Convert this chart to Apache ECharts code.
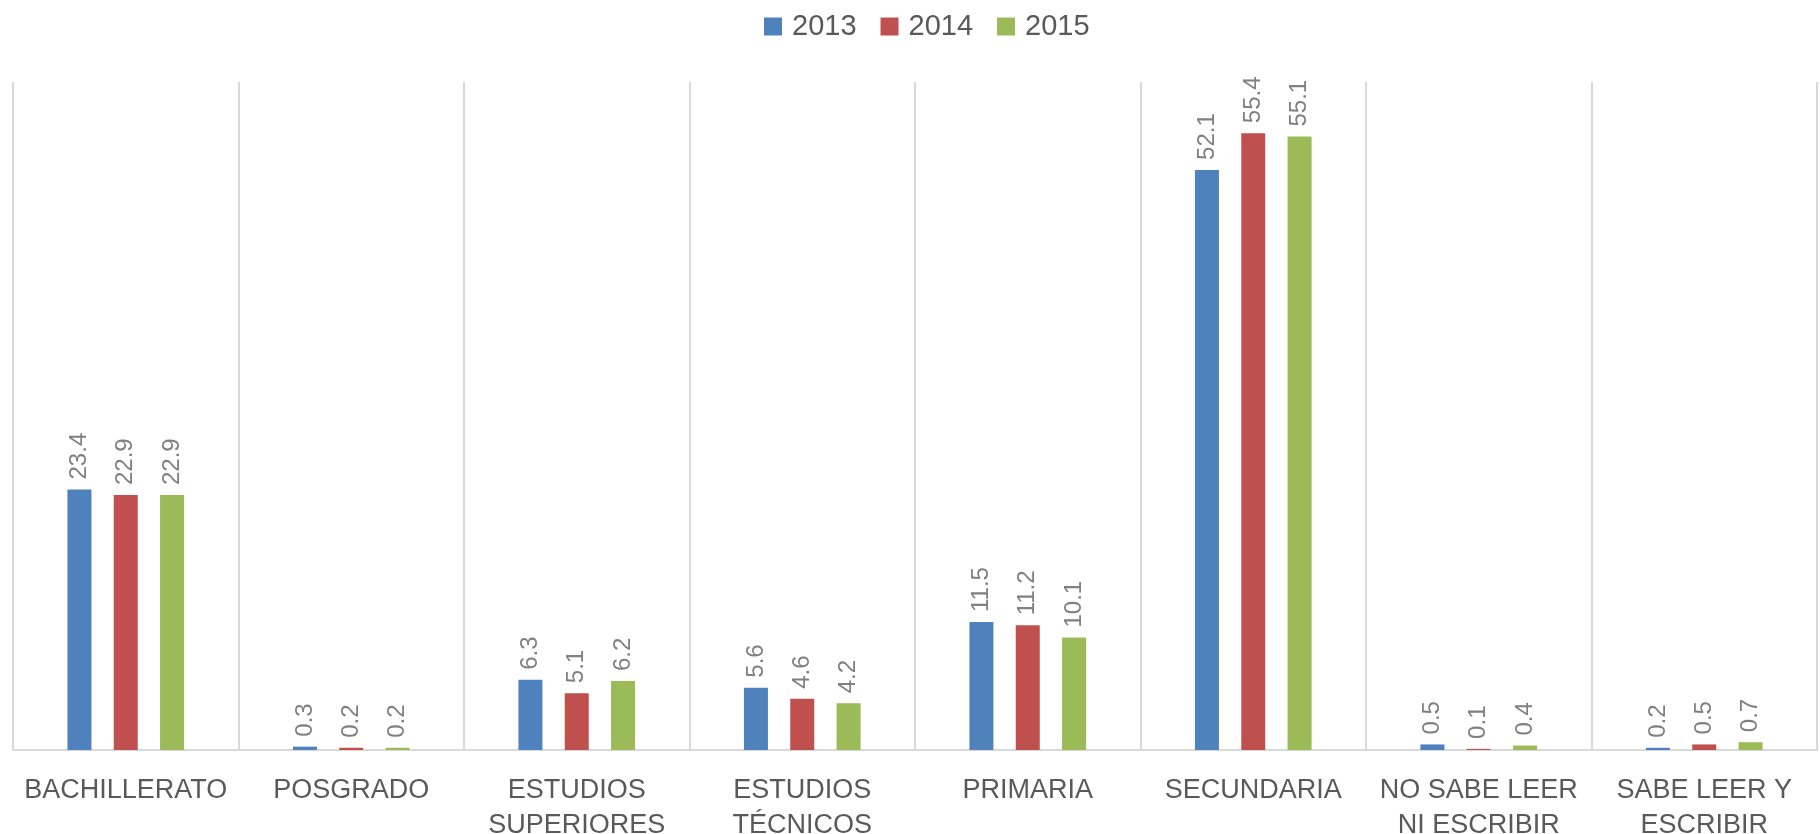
<!DOCTYPE html>
<html>
<head>
<meta charset="utf-8">
<script src="https://cdn.jsdelivr.net/npm/echarts@6/dist/echarts.min.js"></script>
<style>
html,body{margin:0;padding:0;background:#fff;}
#chart{width:1820px;height:834px;}
</style>
</head>
<body>
<div id="chart"></div>
<script>
const categories = ['BACHILLERATO', 'POSGRADO', 'ESTUDIOS\nSUPERIORES', 'ESTUDIOS\nTÉCNICOS', 'PRIMARIA', 'SECUNDARIA', 'NO SABE LEER\nNI ESCRIBIR', 'SABE LEER Y\nESCRIBIR'];
const seriesNames = ['2013', '2014', '2015'];
const values2013 = [23.4, 0.3, 6.3, 5.6, 11.5, 52.1, 0.5, 0.2];
const values2014 = [22.9, 0.2, 5.1, 4.6, 11.2, 55.4, 0.1, 0.5];
const values2015 = [22.9, 0.2, 6.2, 4.2, 10.1, 55.1, 0.4, 0.7];
const colors = ['#4F81BD', '#C0504D', '#9BBB59'];

const chart = echarts.init(document.getElementById('chart'));
const txt = '#595959';
function mk(name, data, color) {
  return {
    name: name,
    type: 'bar',
    data: data,
    barWidth: 24,
    barGap: '93%',
    itemStyle: { color: color },
    label: {
      show: true,
      position: 'top',
      rotate: 90,
      align: 'left',
      verticalAlign: 'middle',
      distance: 10,
      color: '#808080',
      fontSize: 24,
      fontFamily: '"Liberation Sans", Arial, sans-serif',
      formatter: p => p.value.toFixed(1)
    }
  };
}
chart.setOption({
  animation: false,
  color: colors,
  legend: {
    data: seriesNames,
    top: 7,
    left: 759,
    itemWidth: 18,
    itemHeight: 18,
    itemGap: 24,
    icon: 'rect',
    textStyle: { color: txt, fontSize: 29, padding: [0, 0, 0, 5], fontFamily: '"Liberation Sans", Arial, sans-serif' }
  },
  grid: { left: 13, right: 3, top: 82, bottom: 84, containLabel: false, outerBoundsMode: 'none' },
  xAxis: {
    type: 'category',
    data: categories,
    axisLine: { show: true, lineStyle: { color: '#D9D9D9', width: 2 } },
    axisTick: { show: false },
    splitLine: { show: true, lineStyle: { color: '#D9D9D9', width: 2 } },
    axisLabel: {
      interval: 0,
      margin: 23,
      color: txt,
      fontSize: 27,
      lineHeight: 35,
      fontFamily: '"Liberation Sans", Arial, sans-serif'
    }
  },
  yAxis: {
    type: 'value',
    min: 0,
    max: 60,
    show: false,
    splitLine: { show: false }
  },
  series: [mk(seriesNames[0], values2013, colors[0]), mk(seriesNames[1], values2014, colors[1]), mk(seriesNames[2], values2015, colors[2])]
});
</script>
</body>
</html>
